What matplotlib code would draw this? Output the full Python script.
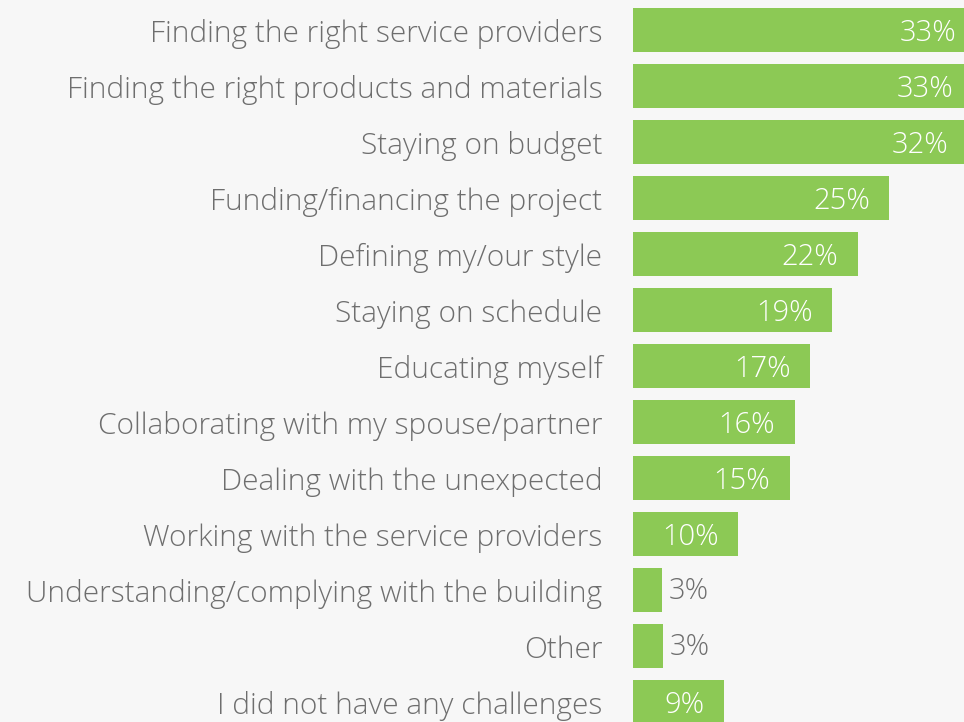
import numpy as np
import matplotlib.pyplot as plt
import matplotlib.transforms as mtransforms

plt.rcParams['font.family'] = ['Open Sans', 'DejaVu Sans']

categories = [
    'Finding the right service providers',
    'Finding the right products and materials',
    'Staying on budget',
    'Funding/financing the project',
    'Defining my/our style',
    'Staying on schedule',
    'Educating myself',
    'Collaborating with my spouse/partner',
    'Dealing with the unexpected',
    'Working with the service providers',
    'Understanding/complying with the building',
    'Other',
    'I did not have any challenges',
]
# bar lengths (%), and the printed labels
values = [33.3, 33.0, 32.5, 24.9, 21.8, 19.3, 17.2, 15.7, 15.2, 10.2, 2.8, 2.9, 8.8]
labels = ['33%', '33%', '32%', '25%', '22%', '19%', '17%', '16%', '15%', '10%', '3%', '3%', '9%']

bg = '#f7f7f7'
green = '#8cc955'
grey = '#6e6e6e'

fig = plt.figure(figsize=(9.64, 7.22), dpi=100, facecolor=bg)
ax = fig.add_axes([633 / 964, 0, 1 - 633 / 964, 1])
ax.set_facecolor(bg)

y = np.arange(len(categories))
ax.barh(y, values, height=0.77, color=green)

ax.set_xlim(0, 331 / 10.3)
ax.set_ylim(692 / 56, -30 / 56)
ax.set_xticks([])
ax.set_yticks([])
for s in ax.spines.values():
    s.set_visible(False)

# category labels, right aligned left of the bars
trans = mtransforms.blended_transform_factory(ax.transAxes, ax.transData)
for i, c in enumerate(categories):
    ax.annotate(c, (0, i), xycoords=trans, xytext=(-22, -3), textcoords='offset points',
                ha='right', va='center', fontsize=21.5, color=grey,
                fontweight='light', annotation_clip=False)

for i, (v, lab) in enumerate(zip(values, labels)):
    if v < 5:
        ax.annotate(lab, (v, i), xytext=(5, -1), textcoords='offset points',
                    ha='left', va='center', fontsize=21, color=grey, fontweight='light')
    else:
        ax.annotate(lab, (v, i), xytext=(-14, -2.5), textcoords='offset points',
                    ha='right', va='center', fontsize=21, color='white',
                    fontweight='light', annotation_clip=False)

fig.savefig('out.png', dpi=100, facecolor=bg)
